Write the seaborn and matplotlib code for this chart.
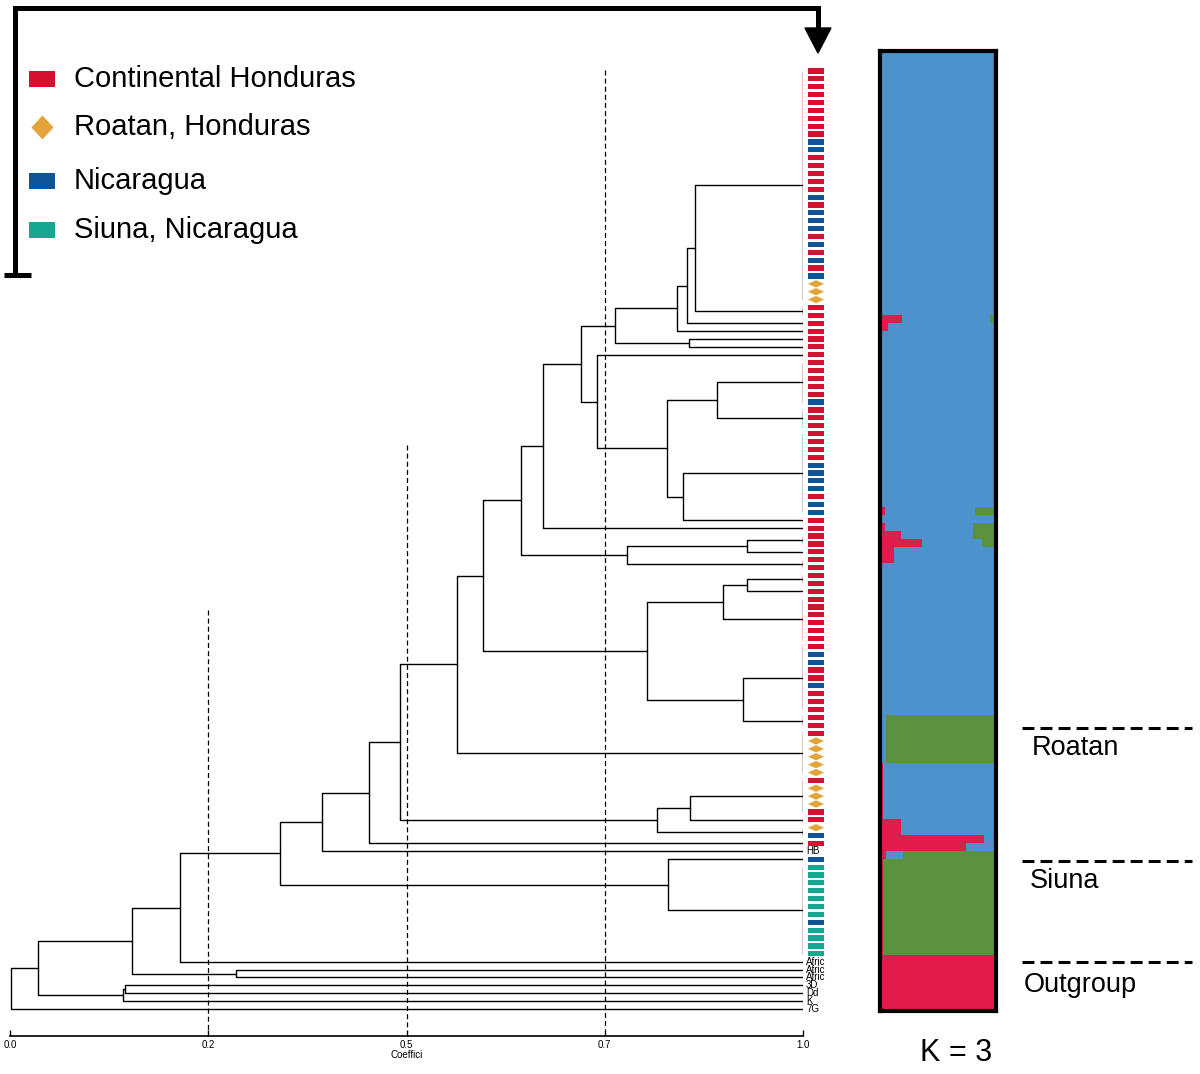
import numpy as np
import pandas as pd
import matplotlib
matplotlib.use("Agg")
import matplotlib.pyplot as plt
import seaborn as sns

#################################################################################
# Data
#################################################################################
# leaf order of the similarity tree, top to bottom
# C = Continental Honduras, R = Roatan, N = Nicaragua, S = Siuna, - = labelled leaf
leaf_codes = list(
    "CCCCCCCCCNNCCCCCNCNNNCNCNCNRRR"   # 0-29
    "CCCCCCC"                          # 30-36
    "CCCCCN" "CCC"                     # 37-45
    "CCCCNNNNCNN" "CC"                 # 46-58
    "CCCCCCCC" "CCCCCC"                # 59-72
    "CNNCCNCCC" "CC"                   # 73-83
    "CRRRRR" "CRRRC" "C" "RN" "C"      # 84-98
    "-N" "SSSSSSSNSSSS"                # 99-112
    "-------"                          # 113-119
)
label_leaves = [99, 113, 114, 115, 116, 117, 118, 119]
label_texts = ["HB", "Afric", "Afric", "Afric", "3D", "Dd", "K", "7G"]

group_codes = ["C", "R", "N", "S"]
group_names = ["Continental Honduras", "Roatan, Honduras", "Nicaragua", "Siuna, Nicaragua"]
group_colors = ["#d2122e", "#e3a43a", "#0f5499", "#13a88f"]

# runs of identical leaves (joined at coefficient 1.0): first, last leaf
tied_runs = {
    "A": (0, 29), "p30": (30, 31), "c37": (37, 42), "c43": (43, 45),
    "c46": (46, 56), "p59": (59, 60), "p62": (62, 63), "p64": (64, 65),
    "c67": (67, 72), "c73": (73, 81), "p82": (82, 83), "c84": (84, 89),
    "c90": (90, 94), "p96": (96, 97), "cS": (101, 112),
}

# joins: new node, left child, right child, similarity coefficient
merges = [
    ("n1", "A", "p30", 0.864),
    ("n2", "n1", 32, 0.854),
    ("n3", "n2", 33, 0.841),
    ("n4", 34, 35, 0.856),
    ("n5", "n3", "n4", 0.763),
    ("n6", "c37", "c43", 0.892),
    ("n7", "c46", 57, 0.849),
    ("n8", "n6", "n7", 0.828),
    ("n9", 36, "n8", 0.740),
    ("n10", "n5", "n9", 0.720),
    ("n11", "n10", 58, 0.672),
    ("n12", "p59", 61, 0.929),
    ("n13", "n12", "p62", 0.778),
    ("n14", "n11", "n13", 0.644),
    ("n15", "p64", 66, 0.929),
    ("n16", "n15", "c67", 0.899),
    ("n17", "c73", "p82", 0.924),
    ("n18", "n16", "n17", 0.803),
    ("n19", "n14", "n18", 0.596),
    ("n20", "n19", "c84", 0.564),
    ("n21", "c90", 95, 0.858),
    ("n22", "n21", "p96", 0.816),
    ("n23", "n20", "n22", 0.492),
    ("n24", "n23", 98, 0.453),
    ("n25", "n24", 99, 0.393),
    ("n26", 100, "cS", 0.830),
    ("n27", "n25", "n26", 0.340),
    ("n28", "n27", 113, 0.214),
    ("n29", 114, 115, 0.285),
    ("n30", "n28", "n29", 0.154),
    ("n31", 116, 117, 0.145),
    ("n32", "n31", 118, 0.1425),
    ("n33", "n30", "n32", 0.035),
    ("root", "n33", 119, 0.001),
]

axis_ticks = [0.0, 0.25, 0.5, 0.75, 1.0]
axis_labels = ["0.0", "0.2", "0.5", "0.7", "1.0"]
cut_levels = [0.25, 0.5, 0.75]
cut_tops = [68.4, 47.4, -0.1]   # leaf position where each dashed line starts

# STRUCTURE K=3 membership, runs of individuals top to bottom
struct_run = [7, 5, 21, 1, 1, 22, 1, 1, 1, 1, 1, 2, 19, 6, 7, 2, 1, 1, 1, 12, 7]
struct_red = [.005, .02, .01, .19, .065, .015, .04, .02, .04, .18, .36, .12, .015,
              0, .03, .18, .90, .74, .05, .03, .98]
struct_green = [.03, .03, .03, .05, .03, .025, .18, .02, .20, .20, .12, .02, .02,
                .95, .015, .02, .03, .02, .80, .97, .02]
struct_colors = {"red": "#e31b4c", "blue": "#4c93cb", "green": "#5c9140"}

#################################################################################
# Figure
#################################################################################
sns.set_style("white")
plt.rcParams["font.family"] = ["Liberation Sans", "DejaVu Sans"]
plt.rcParams["text.color"] = "k"
plt.rcParams["axes.labelcolor"] = "k"
plt.rcParams["xtick.color"] = "k"

W, H = 1200, 1074
fig = plt.figure(figsize=(W / 100, H / 100), dpi=100)

def px_axes(x0, y0, x1, y1):
    return fig.add_axes([x0 / W, 1 - y1 / H, (x1 - x0) / W, (y1 - y0) / H])

# dendrogram: coefficient 0 -> px 10, 1 -> px 803; leaf 0 -> px 71, leaf 119 -> px 1009
leaf_step = (1009 - 71) / 119
ax_d = px_axes(10, 60, 803, 1036)
ax_d.set_xlim(0, 1)
ax_d.set_ylim((1036 - 71) / leaf_step, (60 - 71) / leaf_step)
ax_d.patch.set_alpha(0)

pos = {}

def place(node):
    if isinstance(node, int):
        return node, 1.0
    if node in tied_runs:
        a, b = tied_runs[node]
        return (a + b) / 2, 1.0
    return pos[node]

for a, b in tied_runs.values():
    ax_d.plot([1.0, 1.0], [a, b], color="k", lw=1.0, solid_capstyle="butt")

for name, left, right, h in merges:
    ya, ha = place(left)
    yb, hb = place(right)
    ax_d.plot([ha, h, h, hb], [ya, ya, yb, yb], color="k", lw=1.0)
    pos[name] = ((ya + yb) / 2, h)

for lv, top in zip(cut_levels, cut_tops):
    ax_d.plot([lv, lv], [top, 121.7], color="k", lw=0.9, ls=(0, (4, 2.5)))

# leaf markers
rect = [(-1, -0.32), (1, -0.32), (1, 0.32), (-1, 0.32)]
diamond = [(-1, 0), (0, 0.45), (1, 0), (0, -0.45)]
marker_map = dict(zip(group_names, [rect, diamond, rect, rect]))
code_to_name = dict(zip(group_codes, group_names))
leaf_df = pd.DataFrame({"leaf": np.arange(len(leaf_codes)), "code": leaf_codes})
leaf_df = leaf_df[leaf_df.code != "-"].copy()
leaf_df["group"] = leaf_df.code.map(code_to_name)
leaf_df["x"] = 1.0164
sns.scatterplot(data=leaf_df, x="x", y="leaf", hue="group", style="group",
                palette=dict(zip(group_names, group_colors)), markers=marker_map,
                s=135, linewidth=0, legend=False, clip_on=False, ax=ax_d)

for lf, txt in zip(label_leaves, label_texts):
    ax_d.text(1.004, lf, txt, fontsize=7, ha="left", va="center", clip_on=False)

for side in ["top", "right", "left"]:
    ax_d.spines[side].set_visible(False)
ax_d.spines["bottom"].set_linewidth(1.2)
ax_d.spines["bottom"].set_color("k")
ax_d.set_yticks([])
ax_d.set_xticks(axis_ticks)
ax_d.set_xticklabels(axis_labels, fontsize=7)
ax_d.tick_params(axis="x", direction="in", length=4, width=1, pad=3, bottom=True)
ax_d.set_xlabel("Coeffici", fontsize=7, labelpad=0)
ax_d.set_ylabel("")

# STRUCTURE bar plot
red = np.repeat(struct_red, struct_run)
green = np.repeat(struct_green, struct_run)
sdf = pd.DataFrame({"row": np.arange(len(red)), "red": red, "green": green})
sdf["blue"] = 1 - sdf.red - sdf.green
sdf["red_blue"] = sdf.red + sdf.blue
sdf["total"] = sdf.red_blue + sdf.green

ax_s = px_axes(880, 51, 996, 1011)
for col, c in [("total", struct_colors["green"]), ("red_blue", struct_colors["blue"]),
               ("red", struct_colors["red"])]:
    sns.barplot(data=sdf, x=col, y="row", orient="h", native_scale=True, width=1,
                color=c, saturation=1, errorbar=None, linewidth=0, antialiased=False, ax=ax_s)
ax_s.set_xlim(0, 1)
ax_s.set_ylim(len(red) - 0.5, -0.5)
ax_s.set_xticks([])
ax_s.set_yticks([])
ax_s.set_xlabel("")
ax_s.set_ylabel("")
for sp in ax_s.spines.values():
    sp.set_visible(True)
    sp.set_color("k")
    sp.set_linewidth(3)

# overlay: legend, bracket, population labels
ax_o = fig.add_axes([0, 0, 1, 1])
ax_o.set_xlim(0, W)
ax_o.set_ylim(H, 0)
ax_o.axis("off")
ax_o.patch.set_alpha(0)

ax_o.plot([15, 15, 818, 818], [275, 8, 8, 32], color="k", lw=3.6,
          solid_joinstyle="miter", solid_capstyle="butt")
ax_o.plot([4, 31], [275, 275], color="k", lw=3.6, solid_capstyle="butt")
ax_o.fill([805, 831, 818], [28, 28, 53], color="k")

legend_rect = [(-1, -0.59), (1, -0.59), (1, 0.59), (-1, 0.59)]
legend_diamond = [(-0.92, 0), (0, 1), (0.92, 0), (0, -1)]
legend_rows = [79, 127, 181, 230]
for name, c, m, y in zip(group_names, group_colors,
                         [legend_rect, legend_diamond, legend_rect, legend_rect], legend_rows):
    ax_o.scatter([42], [y], marker=m, s=360 if m is legend_rect else 300, color=c, linewidths=0)
    ax_o.text(74, y, name, fontsize=21, ha="left", va="center")

pop_names = ["Roatan", "Siuna", "Outgroup"]
pop_lines = [728, 861, 962]
pop_text_x = [1032, 1030, 1024]
pop_text_y = [748, 881, 985]
for name, y, tx, ty in zip(pop_names, pop_lines, pop_text_x, pop_text_y):
    ax_o.plot([1022, 1192], [y, y], color="k", lw=2.2, ls=(0, (3.9, 2.0)))
    ax_o.text(tx, ty, name, fontsize=19.5, ha="left", va="center")

ax_o.text(956, 1053, "K = 3", fontsize=22, ha="center", va="center")

plt.savefig("out.png", dpi=100)
plt.close()
